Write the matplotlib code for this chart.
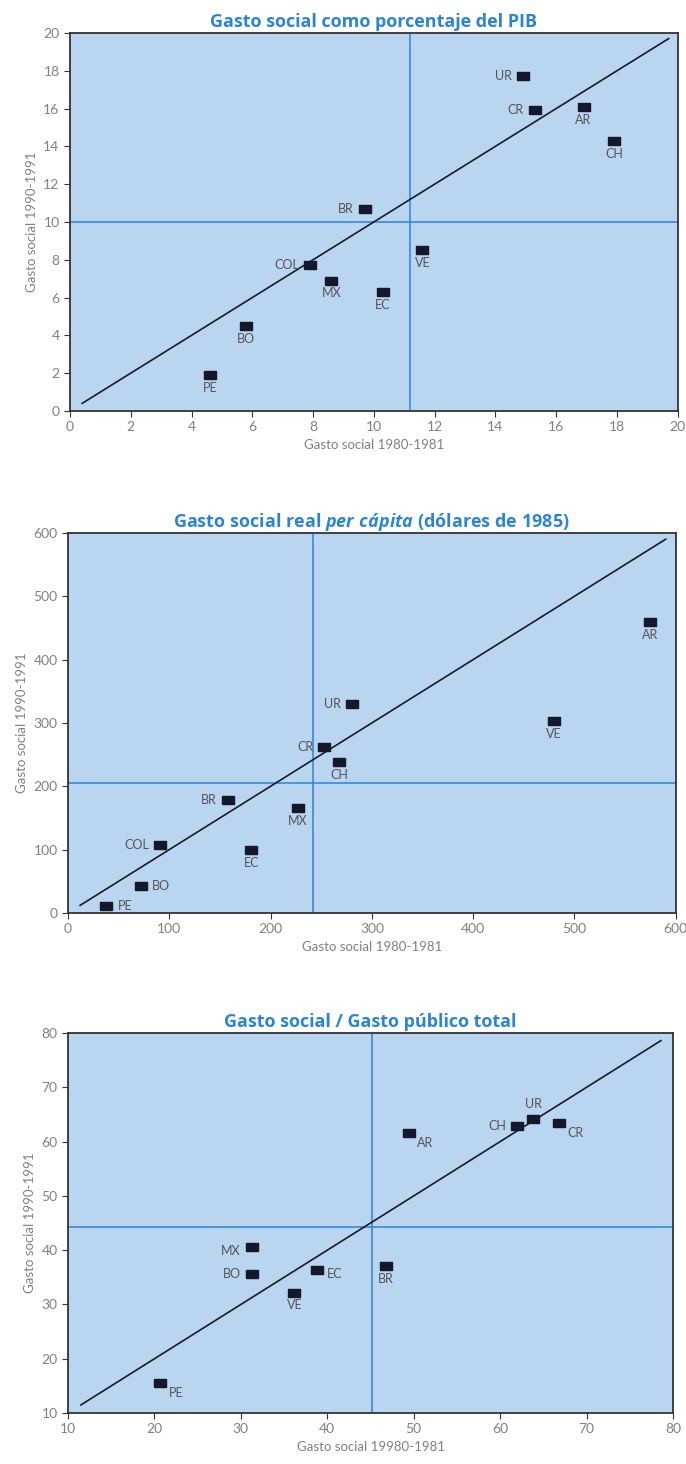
import numpy as np
import matplotlib
matplotlib.use("Agg")
import matplotlib.pyplot as plt

plt.rcParams['font.family'] = ['Lato', 'DejaVu Sans']
plt.rcParams['mathtext.fontset'] = 'custom'
plt.rcParams['mathtext.it'] = 'Open Sans:bold:italic'
plt.rcParams['mathtext.rm'] = 'Open Sans:bold'

# Panel 1: gasto social como % del PIB
pib_paises = ["UR", "CR", "AR", "CH", "BR", "VE", "COL", "MX", "EC", "BO", "PE"]
pib_80 = [14.9, 15.3, 16.9, 17.9, 9.7, 11.6, 7.9, 8.6, 10.3, 5.8, 4.6]
pib_90 = [17.7, 15.9, 16.1, 14.3, 10.7, 8.5, 7.7, 6.9, 6.3, 4.5, 1.9]
pib_pos = ["left", "left", "below", "below", "left", "below", "left", "below", "below", "below", "below"]
pib_ref = [11.2, 10.0]          # líneas de promedio (x, y)
pib_diag = [0.4, 19.7]

# Panel 2: gasto social real per cápita
pc_paises = ["AR", "VE", "UR", "CR", "CH", "BR", "MX", "COL", "EC", "BO", "PE"]
pc_80 = [575, 480, 280, 253, 268, 158, 227, 91, 181, 72, 38]
pc_90 = [460, 303, 330, 262, 238, 179, 166, 108, 100, 42, 11]
pc_pos = ["below", "below", "left", "left", "below", "left", "below", "left", "below", "right", "right"]
pc_ref = [242, 205]
pc_diag = [12, 590]

# Panel 3: gasto social / gasto público total
gp_paises = ["UR", "CH", "CR", "AR", "MX", "BO", "EC", "VE", "BR", "PE"]
gp_80 = [63.8, 62.0, 66.8, 49.4, 31.3, 31.3, 38.8, 36.2, 46.8, 20.7]
gp_90 = [64.2, 62.8, 63.5, 61.6, 40.6, 35.7, 36.4, 32.2, 37.0, 15.5]
gp_pos = ["above", "left", "belowright", "belowright", "leftlow", "left", "rightlow", "below", "below", "belowright"]
gp_ref = [45.2, 44.3]
gp_diag = [11.5, 78.6]

BG = "#b9d5ef"
AZUL = "#2b84d6"
GRIS = "#808080"
RECT = [(-1, -0.62), (1, -0.62), (1, 0.62), (-1, 0.62), (-1, -0.62)]

OFFSETS = {
    "left": ((-8, 0), "right", "center"),
    "right": ((8, 0), "left", "center"),
    "below": ((0, -5), "center", "top"),
    "above": ((0, 6), "center", "bottom"),
    "belowright": ((6, -3), "left", "top"),
    "leftlow": ((-8, -3), "right", "center"),
    "rightlow": ((7, -3), "left", "center"),
}


def panel(ax, title, x, y, names, pos, ref, diag, lim, ticks, xlabel):
    ax.set_facecolor(BG)
    ax.plot(diag, diag, color="#1a1a2a", lw=1.2, zorder=2)
    ax.axvline(ref[0], color=AZUL, lw=1.1, zorder=1)
    ax.axhline(ref[1], color=AZUL, lw=1.1, zorder=1)
    ax.scatter(x, y, marker=RECT, s=85, color="#14182a", zorder=3)
    for xi, yi, n, p in zip(x, y, names, pos):
        off, ha, va = OFFSETS[p]
        ax.annotate(n, (xi, yi), xytext=off, textcoords="offset points",
                    ha=ha, va=va, fontsize=9, color="#555555")
    ax.set_xlim(lim)
    ax.set_ylim(lim)
    ax.set_xticks(ticks)
    ax.set_yticks(ticks)
    ax.tick_params(color="#333333", labelcolor=GRIS, labelsize=10, length=4, direction="out")
    for s in ax.spines.values():
        s.set_color("#333333")
        s.set_linewidth(1.3)
    ax.set_title(title, color=AZUL, fontsize=13, fontweight="bold",
                 family="Open Sans", pad=4)
    ax.set_xlabel(xlabel, color=GRIS, fontsize=9.5)
    ax.set_ylabel("Gasto social 1990-1991", color=GRIS, fontsize=9.5)


fig = plt.figure(figsize=(6.86, 14.64), dpi=100)

ax1 = fig.add_axes([0.102, 0.7193, 0.886, 0.2582])
panel(ax1, "Gasto social como porcentaje del PIB", pib_80, pib_90, pib_paises, pib_pos,
      pib_ref, pib_diag, (0, 20), np.arange(0, 21, 2), "Gasto social 1980-1981")

ax2 = fig.add_axes([0.0991, 0.3764, 0.886, 0.2596])
panel(ax2, "Gasto social real $\\it{per\\ cápita}$ (dólares de 1985)", pc_80, pc_90, pc_paises, pc_pos,
      pc_ref, pc_diag, (0, 600), np.arange(0, 601, 100), "Gasto social 1980-1981")

ax3 = fig.add_axes([0.0991, 0.0348, 0.882, 0.2596])
panel(ax3, "Gasto social / Gasto público total", gp_80, gp_90, gp_paises, gp_pos,
      gp_ref, gp_diag, (10, 80), np.arange(10, 81, 10), "Gasto social 19980-1981")

fig.savefig("out.png", dpi=100, facecolor="white")
